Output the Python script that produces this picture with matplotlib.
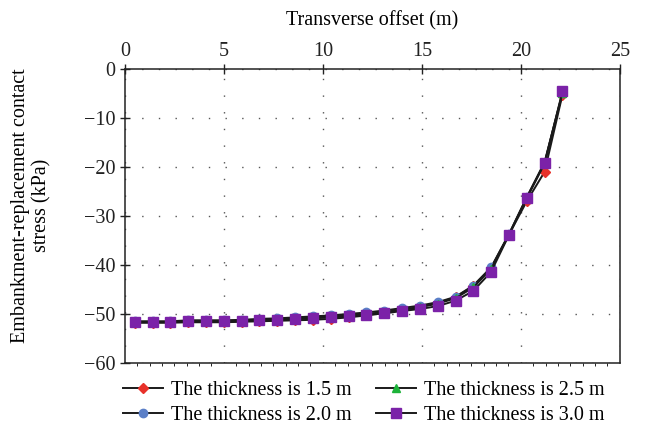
import matplotlib.pyplot as plt
from matplotlib.ticker import MultipleLocator

# transverse offset (m)
offset = [0.5, 1.4, 2.3, 3.2, 4.1, 5.0, 5.9, 6.8, 7.7, 8.6, 9.5, 10.4, 11.3,
          12.2, 13.1, 14.0, 14.9, 15.8, 16.7, 17.6, 18.5, 19.4, 20.3, 21.2, 22.1]

# contact stress (kPa) per replacement thickness
stress_15 = [-51.8, -51.8, -51.8, -51.7, -51.7, -51.7, -51.6, -51.5, -51.4, -51.3,
             -51.2, -51.0, -50.7, -50.3, -49.8, -49.2, -48.6, -47.8, -46.6, -44.3,
             -40.6, -33.8, -27.0, -21.0, -5.3]
stress_20 = [-51.5, -51.5, -51.5, -51.3, -51.3, -51.3, -51.2, -51.0, -50.9, -50.7,
             -50.5, -50.3, -50.0, -49.7, -49.3, -48.8, -48.3, -47.6, -46.5, -44.2,
             -40.5, -33.7, -26.2, -19.2, -5.0]
stress_25 = [-51.6, -51.6, -51.6, -51.4, -51.4, -51.4, -51.4, -51.2, -51.1, -50.9,
             -50.7, -50.5, -50.3, -50.0, -49.6, -49.1, -48.6, -47.9, -46.8, -44.6,
             -40.8, -33.8, -26.2, -19.0, -4.9]
stress_30 = [-51.7, -51.7, -51.7, -51.5, -51.5, -51.5, -51.5, -51.3, -51.3, -51.1,
             -50.9, -50.7, -50.5, -50.2, -49.9, -49.4, -49.0, -48.4, -47.3, -45.3,
             -41.4, -33.9, -26.4, -19.3, -4.6]

plt.rcParams["font.family"] = ["Liberation Serif", "DejaVu Serif"]

FS = 14.5

fig = plt.figure(figsize=(6.47, 4.28), dpi=100)
ax = fig.add_axes([0.193, 0.152, 0.765, 0.687])

series = [
    (stress_15, "D", "#e8312a", 5, "The thickness is 1.5 m"),
    (stress_20, "o", "#5b7fc7", 6, "The thickness is 2.0 m"),
    (stress_25, "^", "#1db33a", 6, "The thickness is 2.5 m"),
    (stress_30, "s", "#7b22a8", 6.5, "The thickness is 3.0 m"),
]
for vals, mk, col, ms, lab in series:
    ax.plot(offset, vals, color="#1a1a1a", lw=1.4, marker=mk, ms=ms,
            markerfacecolor=col, markeredgecolor=col, label=lab)

ax.set_xlim(0, 25)
ax.set_ylim(-60, 0)
ax.xaxis.set_major_locator(MultipleLocator(5))
ax.yaxis.set_major_locator(MultipleLocator(10))
ax.xaxis.tick_top()
ax.xaxis.set_label_position("top")
ax.tick_params(axis="both", which="major", direction="inout", length=7,
               width=1, labelsize=FS, colors="#222222")
ax.tick_params(axis="x", which="major", pad=2)
ax.xaxis.set_minor_locator(MultipleLocator(0.625))
ax.tick_params(axis="x", which="minor", bottom=True, top=False,
               direction="out", length=2, width=0.6)
for s in ax.spines.values():
    s.set_linewidth(1.1)
    s.set_color("#222222")

ax.grid(True, which="major", color="#555555", linestyle=(0, (1, 11)), lw=1.0)

ax.set_xlabel("Transverse offset (m)", fontsize=FS, labelpad=12)
ax.set_ylabel("Embankment-replacement contact\nstress (kPa)", fontsize=FS,
              linespacing=1.15)
ax.yaxis.set_label_coords(-0.148, 0.535)

handles, labels = ax.get_legend_handles_labels()
fig.legend(handles, labels,
           loc="lower center", bbox_to_anchor=(0.562, -0.035), ncol=2,
           frameon=False, fontsize=FS, handlelength=2.0, columnspacing=1.2,
           labelspacing=0.3, handletextpad=0.4)

fig.savefig("out.png", dpi=100)
